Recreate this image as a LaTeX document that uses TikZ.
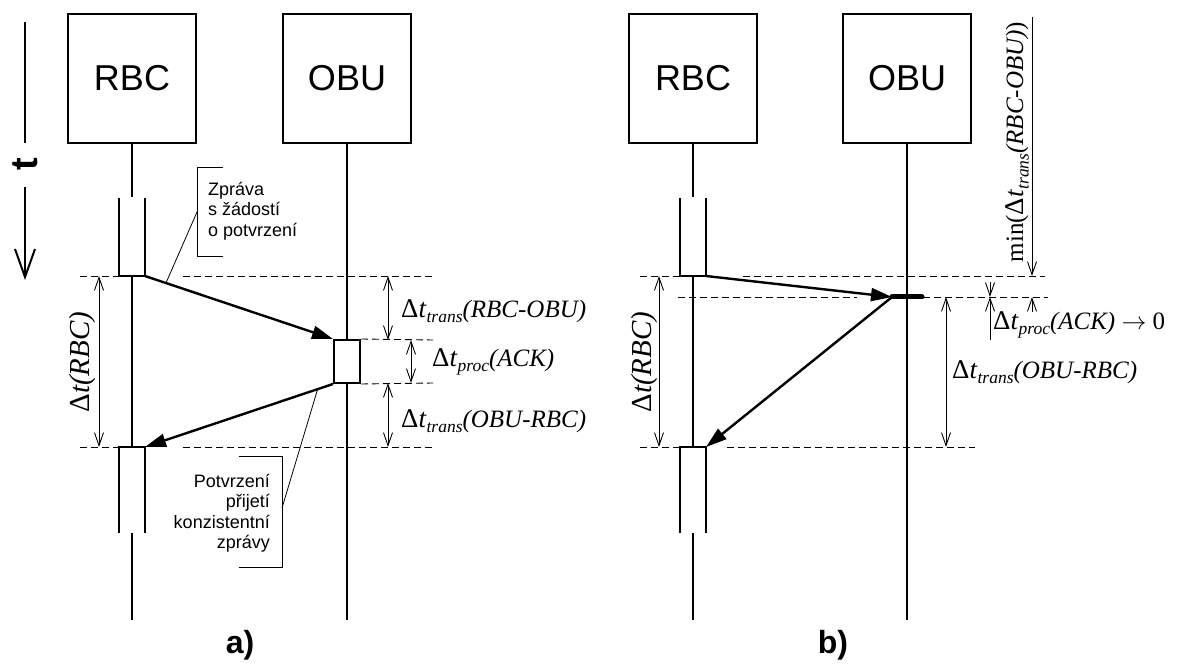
\documentclass[tikz,border=0pt]{standalone}
\usepackage{fontspec}
\setmainfont{Liberation Sans}
\newfontfamily\tnr{Liberation Serif}
\usetikzlibrary{arrows.meta}
\newcommand{\mydt}[2]{{\fontsize{27}{28}\selectfont Δ\textit{t}}\raisebox{-.22em}{\fontsize{17.5}{18}\selectfont\textit{#1}}\textit{#2}}
\begin{document}
\begin{tikzpicture}[x=1pt,y=-1pt,
  objbox/.style={draw,line width=2pt,minimum width=128pt,minimum height=129pt,inner sep=0pt,font=\fontsize{36}{40}\selectfont},
  life/.style={line width=2pt},
  actbar/.style={line width=2pt},
  msg/.style={line width=2.4pt,-{Triangle[length=21pt,width=13pt]}},
  dim/.style={line width=0.9pt,{Straight Barb[length=13pt,width=9pt]}-{Straight Barb[length=13pt,width=9pt]}},
  dimend/.style={line width=0.9pt,-{Straight Barb[length=13pt,width=9pt]}},
  guide/.style={line width=0.9pt,dash pattern=on 7pt off 4pt},
  lead/.style={line width=0.8pt},
  lab/.style={font=\tnr\fontsize{25}{28}\selectfont,inner sep=0pt},
  note/.style={font=\fontsize{18}{20.5}\selectfont,inner sep=0pt},
  panel/.style={font=\bfseries\fontsize{32}{36}\selectfont,inner sep=0pt}
]
\useasboundingbox (0,0) rectangle (1186,668);

% ---------- time axis ----------
\coordinate (tA) at (25,22);
\coordinate (tB) at (25,143);
\coordinate (tC) at (25,187);
\coordinate (tD) at (25,280);
\draw[line width=2pt] (tA) -- (tB);
\draw[line width=2pt,-{Straight Barb[length=28pt,width=20pt]}] (tC) -- (tD);
\node[rotate=90,font=\bfseries\fontsize{38}{40}\selectfont,inner sep=0pt] (tlab) at (25,164) {t};

% ================= panel a) =================
\node[objbox] (rbcA) at (132,78.5) {RBC};
\node[objbox] (obuA) at (347,78.5) {OBU};

\coordinate (rA1) at (132,197);
\coordinate (rA2) at (132,276);
\coordinate (rA3) at (132,447);
\coordinate (rA4) at (132,533);
\coordinate (rA5) at (132,620);
\coordinate (oA5) at (347,620);

% RBC lifeline
\draw[life] (rbcA.south) -- (rA1);
\draw[life] (rA2) -- (rA3);
\draw[life] (rA4) -- (rA5);
% RBC activation boxes
\draw[actbar] (119,198) -- (119,276) -- (145,276) -- (145,198);
\draw[actbar] (119,533) -- (119,447) -- (145,447) -- (145,533);
% OBU lifeline and activation
\draw[life] (obuA.south) -- (oA5);
\node[draw,fill=white,line width=2pt,minimum width=26pt,minimum height=43pt,inner sep=0pt] (ackA) at (347,361.5) {};

% guides
\draw[guide] (80,276) -- (119,276);
\draw[guide] (183,276) -- (433,276);
\draw[guide] (ackA.north east) -- (433,340);
\draw[guide] (ackA.south east) -- (433,383);
\draw[guide] (80,447) -- (119,447);
\draw[guide] (183,447) -- (433,447);

% messages
\coordinate (sA) at (145,276);
\coordinate (eA) at (145,447);
\draw[msg] (sA) -- (ackA.north west);
\draw[msg] (ackA.south west) -- (eA);

% dimensions
\draw[dim] (388,276) -- (388,340);
\draw[dim] (411,340) -- (411,383);
\draw[dim] (388,383) -- (388,447);
\draw[dim] (99,276) -- (99,447);

\node[lab,anchor=west] (l1) at (401,311) {\mydt{trans}{(RBC-OBU)}};
\node[lab,anchor=west] (l2) at (432,362) {\mydt{proc}{(ACK)}};
\node[lab,anchor=west] (l3) at (401,421) {\mydt{trans}{(OBU-RBC)}};
\node[lab,rotate=90,font=\tnr\fontsize{29}{30}\selectfont] (l4) at (83,362) {Δ\textit{t(RBC)}};

% notes
\node[note,anchor=west,align=left] (n1) at (208,211) {Zpráva\\s žádostí\\o potvrzení};
\draw[lead] (223,167) -- (197,167) -- (197,256) -- (223,256);
\coordinate (n1a) at (197,212);
\coordinate (n1b) at (166,283);
\draw[lead] (n1a) -- (n1b);

\node[note,anchor=east,align=right] (n2) at (270,513) {Potvrzení\\přijetí\\konzistentní\\zprávy};
\draw[lead] (239,456) -- (282,456) -- (282,567) -- (239,567);
\coordinate (n2a) at (282,508);
\coordinate (n2b) at (318,388);
\draw[lead] (n2a) -- (n2b);

\node[panel] (pa) at (240,645) {a)};

% ================= panel b) =================
\node[objbox] (rbcB) at (693,78.5) {RBC};
\node[objbox] (obuB) at (907,78.5) {OBU};

\coordinate (rB1) at (693,197);
\coordinate (rB2) at (693,276);
\coordinate (rB3) at (693,447);
\coordinate (rB4) at (693,533);
\coordinate (rB5) at (693,620);
\coordinate (oB5) at (907,620);

\draw[life] (rbcB.south) -- (rB1);
\draw[life] (rB2) -- (rB3);
\draw[life] (rB4) -- (rB5);
\draw[actbar] (680,198) -- (680,276) -- (706,276) -- (706,198);
\draw[actbar] (680,533) -- (680,447) -- (706,447) -- (706,533);
\draw[life] (obuB.south) -- (oB5);

% guides
\draw[guide] (640,276) -- (680,276);
\draw[guide] (743,276) -- (1045,276);
\draw[guide] (678,297) -- (857,297);
\draw[guide] (923,297) -- (1048,297);
\draw[guide] (640,447) -- (680,447);
\draw[guide] (727,447) -- (975,447);

% messages
\coordinate (sB) at (706,276);
\coordinate (ackB) at (892,297);
\coordinate (ackBe) at (922,297);
\coordinate (eB) at (706,447);
\draw[line width=5pt,line cap=round] (ackB) -- (ackBe);
\draw[msg] (sB) -- (ackB);
\draw[msg] (ackB) -- (eB);

% dimensions
\draw[dim] (659,276) -- (659,447);
\draw[dim] (946,297) -- (946,447);
\draw[dimend] (1032,17) -- (1032,276);
\draw[dimend] (1032,312) -- (1032,297);
\draw[dimend] (990,282) -- (990,297);
\draw[dimend] (990,340) -- (990,297);

\node[lab,rotate=90,font=\tnr\fontsize{29}{30}\selectfont] (l5) at (645,362) {Δ\textit{t(RBC)}};
\node[lab,anchor=west] (l6) at (993,325) {\mydt{proc}{(ACK)} $\rightarrow$ 0};
\node[lab,anchor=west] (l7) at (952,372) {\mydt{trans}{(OBU-RBC)}};
\node[lab,rotate=90] (l8) at (1017,142) {min(\mydt{trans}{(RBC-OBU)})};

\node[panel] (pb) at (833,645) {b)};
\end{tikzpicture}
\end{document}
